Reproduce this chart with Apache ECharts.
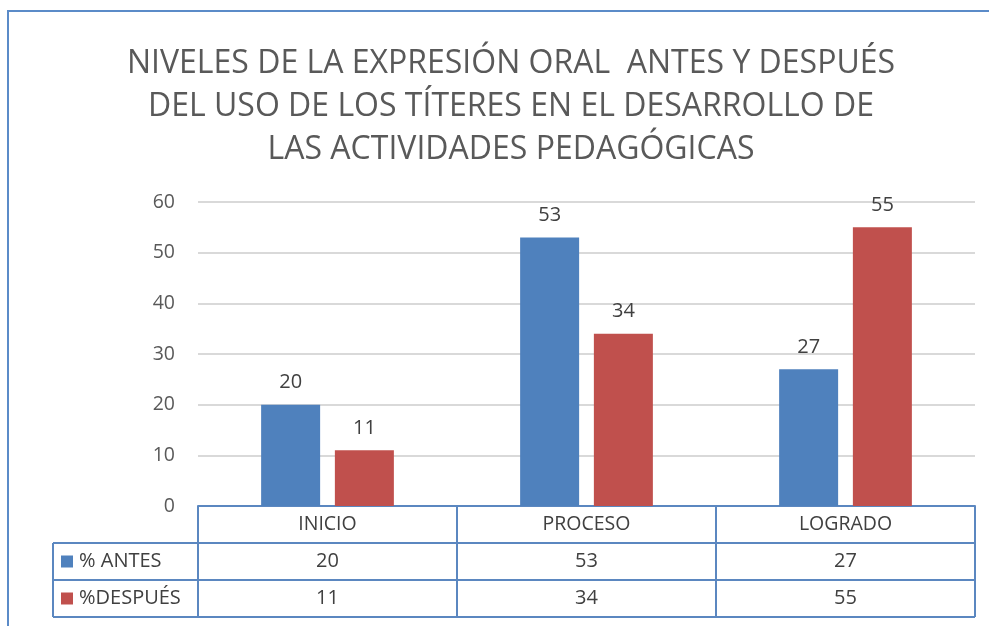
<!DOCTYPE html>
<html>
<head>
<meta charset="utf-8">
<script src="https://cdn.jsdelivr.net/npm/echarts@6/dist/echarts.min.js"></script>
<style>
  html, body { margin: 0; padding: 0; background: #fff; }
  #main { width: 989px; height: 626px; }
</style>
</head>
<body>
<div id="main"></div>
<script>
// datos del gráfico
const categories = ['INICIO', 'PROCESO', 'LOGRADO'];
const antes = [20, 53, 27];
const despues = [11, 34, 55];
const seriesNames = ['% ANTES', '%DESPUÉS'];
const seriesColors = ['#4f81bd', '#c0504d'];
const yMin = 0, yMax = 60, yStep = 10;

const FONT = 'Open Sans';
const TABLE_LINE = '#5b87c0';
const rowH = 37;        // alto de cada fila de la tabla
const legendLeft = 53;  // borde izquierdo de la columna de leyenda

const chart = echarts.init(document.getElementById('main'));

const option = {
  animation: false,
  backgroundColor: '#fff',
  textStyle: { fontFamily: FONT },
  title: {
    text: 'NIVELES DE LA EXPRESIÓN ORAL  ANTES Y DESPUÉS\nDEL USO DE LOS TÍTERES EN EL DESARROLLO DE\nLAS ACTIVIDADES PEDAGÓGICAS',
    left: 506,
    textAlign: 'center',
    top: 37,
    textStyle: {
      fontFamily: FONT,
      fontSize: 32,
      fontWeight: 'normal',
      color: '#595959',
      lineHeight: 43
    }
  },
  grid: { left: 198, right: 14, top: 202, bottom: 120 },
  xAxis: {
    type: 'category',
    data: categories,
    axisLine: { lineStyle: { color: TABLE_LINE, width: 2 } },
    axisTick: { show: true, length: rowH * 3, lineStyle: { color: TABLE_LINE, width: 2 } },
    axisLabel: { fontFamily: FONT, fontSize: 19.5, color: '#404040', margin: 8 }
  },
  yAxis: {
    type: 'value',
    min: yMin,
    max: yMax,
    interval: yStep,
    axisLine: { show: false },
    axisTick: { show: false },
    axisLabel: { fontFamily: FONT, fontSize: 19.5, color: '#595959', margin: 23 },
    splitLine: { lineStyle: { color: '#d9d9d9', width: 2 } }
  },
  series: [
    {
      name: seriesNames[0],
      type: 'bar',
      data: antes,
      barWidth: 59,
      barGap: '25%',
      itemStyle: { color: seriesColors[0] },
      label: { show: true, position: 'top', distance: 12, fontFamily: FONT, fontSize: 20, color: '#404040' }
    },
    {
      name: seriesNames[1],
      type: 'bar',
      data: despues,
      barWidth: 59,
      barGap: '25%',
      itemStyle: { color: seriesColors[1] },
      label: { show: true, position: 'top', distance: 12, fontFamily: FONT, fontSize: 20, color: '#404040' }
    }
  ]
};

chart.setOption(option);

// tabla de datos bajo el eje, construida a partir de las escalas del gráfico
function buildTable() {
  const y0 = chart.convertToPixel({ yAxisIndex: 0 }, yMin);
  const gridRect = chart.getModel().getComponent('grid', 0).coordinateSystem.getRect();
  const xRight = gridRect.x + gridRect.width;
  const graphics = [];

  // marco exterior del gráfico
  graphics.push({
    type: 'rect',
    shape: { x: 8, y: 11, width: 1100, height: 700 },
    style: { fill: null, stroke: '#5b8bc8', lineWidth: 2 },
    silent: true
  });

  // líneas horizontales de las filas
  for (let r = 1; r <= 3; r++) {
    const yy = y0 + rowH * r;
    graphics.push({
      type: 'line',
      shape: { x1: legendLeft, y1: yy, x2: xRight, y2: yy },
      style: { stroke: TABLE_LINE, lineWidth: 2 },
      silent: true
    });
  }
  // borde izquierdo de la columna de leyenda
  graphics.push({
    type: 'line',
    shape: { x1: legendLeft, y1: y0 + rowH, x2: legendLeft, y2: y0 + rowH * 3 },
    style: { stroke: TABLE_LINE, lineWidth: 2 },
    silent: true
  });

  const rows = [antes, despues];
  rows.forEach((vals, i) => {
    const cy = y0 + rowH * (i + 1) + rowH / 2;
    graphics.push({
      type: 'rect',
      shape: { x: legendLeft + 8, y: cy - 6, width: 12, height: 12 },
      style: { fill: seriesColors[i] },
      silent: true
    });
    graphics.push({
      type: 'text',
      x: legendLeft + 26, y: cy,
      style: {
        text: seriesNames[i], fontFamily: FONT, fontSize: 20, fill: '#404040',
        align: 'left', verticalAlign: 'middle'
      },
      silent: true
    });
    vals.forEach((v, j) => {
      const cx = chart.convertToPixel({ xAxisIndex: 0 }, categories[j]);
      graphics.push({
        type: 'text',
        x: cx, y: cy,
        style: {
          text: String(v), fontFamily: FONT, fontSize: 20, fill: '#404040',
          align: 'center', verticalAlign: 'middle'
        },
        silent: true
      });
    });
  });

  chart.setOption({ graphic: graphics });
}

buildTable();
</script>
</body>
</html>
